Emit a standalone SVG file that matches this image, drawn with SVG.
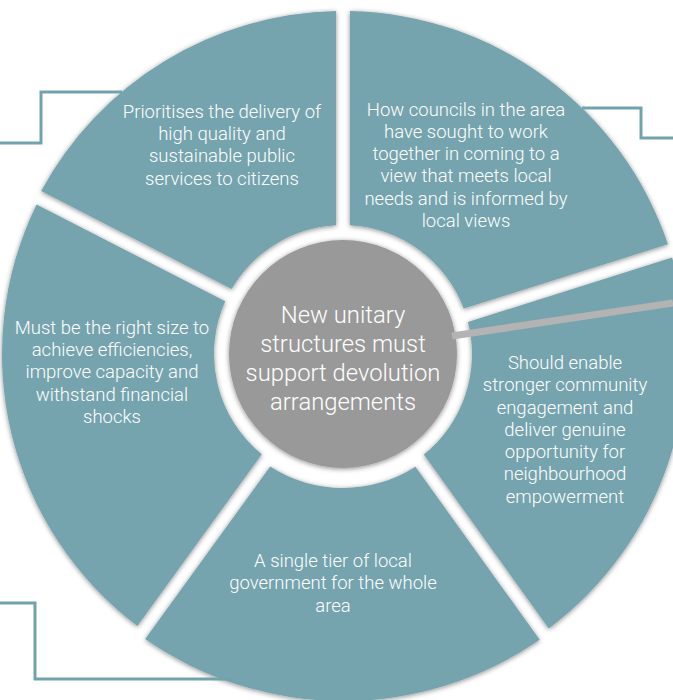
<svg xmlns="http://www.w3.org/2000/svg" width="673" height="700" viewBox="0 0 673 700">
<defs>
<filter id="sh" x="-10%" y="-10%" width="120%" height="120%">
<feDropShadow dx="0" dy="1" stdDeviation="2.5" flood-color="#000" flood-opacity="0.45"/>
</filter>
<style>
.seg{fill:#74a4ae;filter:url(#sh)}
.hub{fill:#999999;filter:url(#sh)}
.t{font-family:Roboto,"Liberation Sans",sans-serif;font-size:18.5px;font-weight:300;fill:#ffffff;text-anchor:middle}
.tc{font-family:Roboto,"Liberation Sans",sans-serif;font-size:23.8px;font-weight:300;fill:#ffffff;text-anchor:middle}
.con{fill:none;stroke:#72a3ad;stroke-width:3}
.gl{fill:none;stroke:#b3b3b3;stroke-width:7}
</style>
</defs>
<rect width="673" height="700" fill="#ffffff"/>
<g id="seg-top-right">
<path class="seg" d="M350,11.07 A343,343 0 0,1 667.96,244.2 L463.74,308.59 A129,129 0 0,0 350,225.19 Z"/>
<text class="t"><tspan x="466" y="116">How councils in the area</tspan><tspan x="466" y="138">have sought to work</tspan><tspan x="466" y="160">together in coming to a</tspan><tspan x="466" y="182">view that meets local</tspan><tspan x="466" y="205">needs and is informed by</tspan><tspan x="466" y="227">local views</tspan></text>
</g>
<g id="seg-right">
<path class="seg" d="M672.16,257.56 A343,343 0 0,1 548.79,628.41 L423.83,454.54 A129,129 0 0,0 467.95,321.94 Z"/>
<text class="t"><tspan x="565" y="369">Should enable</tspan><tspan x="565" y="391">stronger community</tspan><tspan x="565" y="414">engagement and</tspan><tspan x="565" y="436">deliver genuine</tspan><tspan x="565" y="458">opportunity for</tspan><tspan x="565" y="480">neighbourhood</tspan><tspan x="565" y="503">empowerment</tspan></text>
</g>
<g id="seg-bottom">
<path class="seg" d="M539.74,639.83 A347,347 0 0,1 145.18,639.09 L270.2,466.5 A134,134 0 0,0 415.42,466.74 Z"/>
<text class="t"><tspan x="333" y="567">A single tier of local</tspan><tspan x="333" y="589">government for the whole</tspan><tspan x="333" y="612">area</tspan></text>
</g>
<g id="seg-left">
<path class="seg" d="M137.35,626.01 A341,341 0 0,1 36.58,204.38 L225.23,301.35 A129,129 0 0,0 261.81,454.24 Z"/>
<text class="t"><tspan x="112" y="334">Must be the right size to</tspan><tspan x="112" y="356">achieve efficiencies,</tspan><tspan x="112" y="378">improve capacity and</tspan><tspan x="112" y="401">withstand financial</tspan><tspan x="112" y="423">shocks</tspan></text>
</g>
<g id="seg-top-left">
<path class="seg" d="M41.19,191.03 A343,343 0 0,1 336,11.07 L336,225.19 A129,129 0 0,0 231.63,288.89 Z"/>
<text class="t"><tspan x="222" y="118">Prioritises the delivery of</tspan><tspan x="222" y="140">high quality and</tspan><tspan x="222" y="162">sustainable public</tspan><tspan x="222" y="185">services to citizens</tspan></text>
</g>
<g id="hub">
<circle class="hub" cx="343" cy="354" r="114"/>
<text class="tc"><tspan x="343" y="323">New unitary</tspan><tspan x="343" y="352">structures must</tspan><tspan x="343" y="381">support devolution</tspan><tspan x="343" y="410">arrangements</tspan></text>
</g>
<g id="connectors">
<polyline class="con" points="0,143 41,143 41,92 122,92"/>
<polyline class="con" points="582,108 641,108 641,138 673,138"/>
<polyline class="con" points="0,603 35,603 35,679 232,679"/>
<line class="gl" x1="452" y1="336" x2="673" y2="303"/>
</g>
</svg>
